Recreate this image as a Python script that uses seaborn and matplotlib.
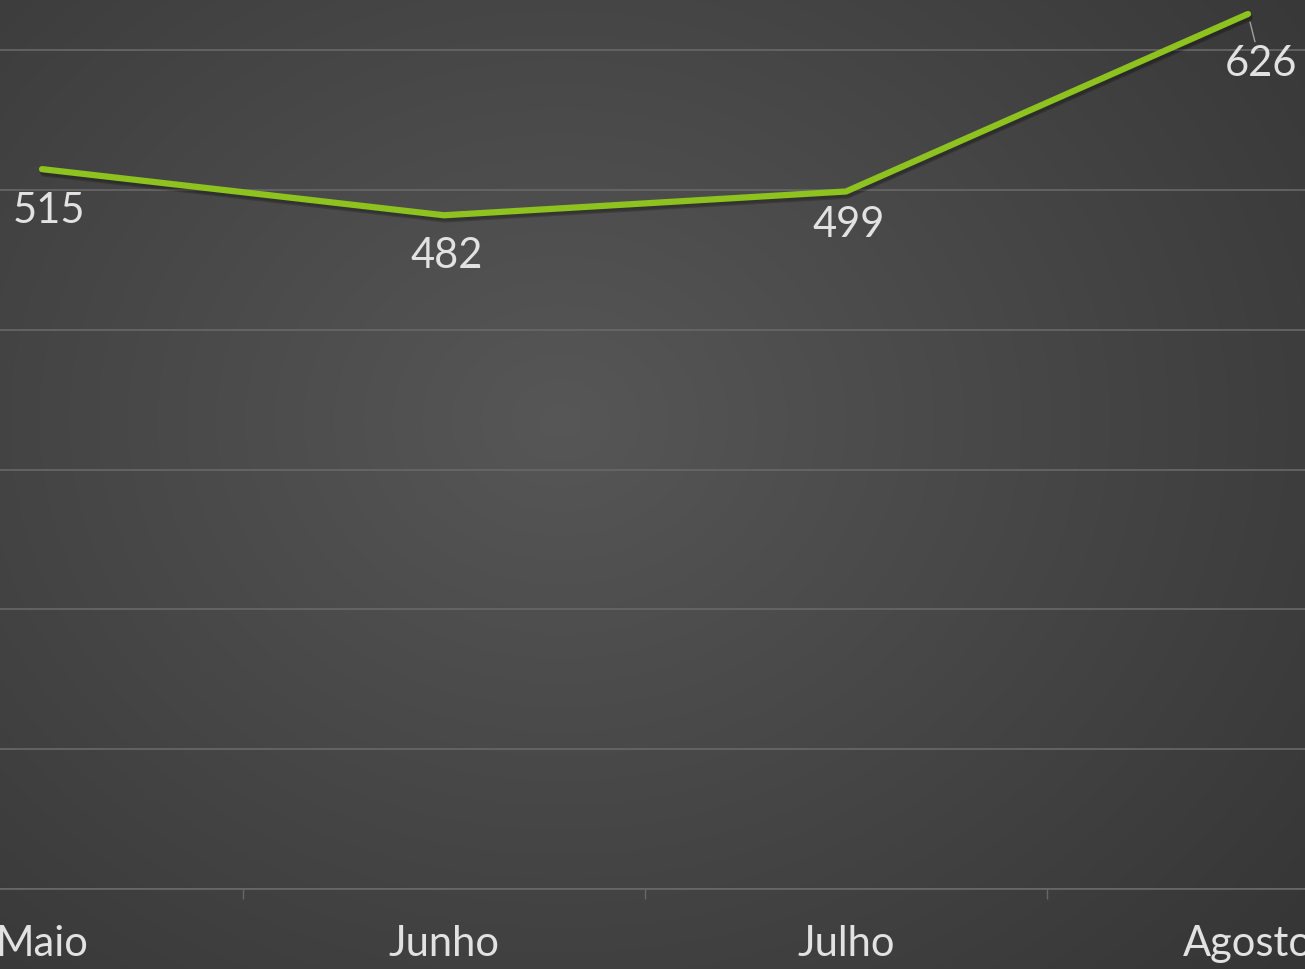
import numpy as np
import pandas as pd
import matplotlib
matplotlib.use("Agg")
import matplotlib.pyplot as plt
import matplotlib.patheffects as pe
import seaborn as sns

meses = ["Maio", "Junho", "Julho", "Agosto"]
valores = [515, 482, 499, 626]
# label offsets in points (dx, dy)
offsets = [(5, -30), (2, -29), (2, -24), (9, -36)]

df = pd.DataFrame({"mes": meses, "valor": valores})

sns.set_theme(style="dark")
plt.rcParams["font.family"] = ["Lato", "DejaVu Sans"]

fig = plt.figure(figsize=(13.05, 9.69), dpi=100)

# radial gradient background
bg = fig.add_axes([0, 0, 1, 1], zorder=0)
yy, xx = np.mgrid[0:969, 0:1305]
r = np.sqrt(((xx - 560) / 900) ** 2 + ((yy - 420) / 750) ** 2)
shade = np.clip(0.34 - 0.12 * r, 0.19, 0.34)
bg.imshow(np.dstack([shade] * 3), aspect="auto", extent=[0, 1, 0, 1])
bg.set_axis_off()

ax = fig.add_axes([-159 / 1305, 80 / 969, 1608 / 1305, 889 / 969], zorder=1)
ax.patch.set_alpha(0)

sns.lineplot(data=df, x="mes", y="valor", ax=ax, color="#8dc21f", linewidth=4.5,
             solid_capstyle="round",
             path_effects=[pe.SimpleLineShadow(offset=(1, -3), shadow_color="black", alpha=0.2),
                           pe.SimpleLineShadow(offset=(1, -2), shadow_color="black", alpha=0.15),
                           pe.Normal()])

ax.set_xlim(-0.5, 3.5)
ax.set_ylim(0, 636)
ax.set_yticks(np.arange(0, 700, 100))
ax.yaxis.grid(True, color="#686868", linewidth=1.2)
ax.xaxis.grid(False)
ax.tick_params(axis="y", left=False, labelleft=False)
ax.set_xticks(range(len(meses)))
ax.set_xticklabels(meses, color="#e2e2e2", fontsize=30)
ax.set_xticks([0.5, 1.5, 2.5], minor=True)
ax.tick_params(axis="x", which="major", length=0, pad=26)
ax.tick_params(axis="x", which="minor", length=7, width=1, color="#686868", bottom=True)
for s in ["top", "left", "right"]:
    ax.spines[s].set_visible(False)
ax.spines["bottom"].set_color("#686868")
ax.spines["bottom"].set_linewidth(1.2)
ax.set_xlabel("")
ax.set_ylabel("")

for i, (v, off) in enumerate(zip(valores, offsets)):
    arrow = None
    if i == 3:
        arrow = dict(arrowstyle="-", color="#a0a0a0", lw=1, shrinkA=0, shrinkB=6)
    ax.annotate(str(v), xy=(i, v), xytext=off, textcoords="offset points",
                ha="center", va="center", fontsize=30, color="#e2e2e2",
                arrowprops=arrow, annotation_clip=False)

fig.savefig("out.png", dpi=100)
